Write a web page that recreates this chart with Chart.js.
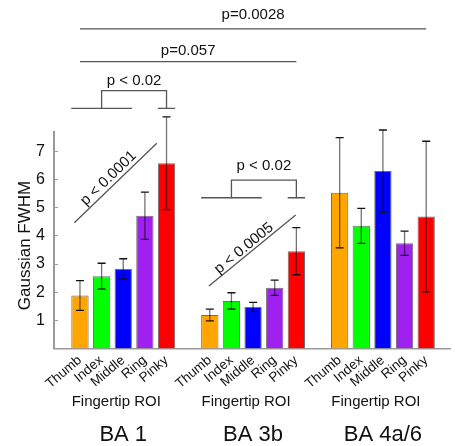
<!DOCTYPE html>
<html>
<head>
<meta charset="utf-8">
<script src="https://cdn.jsdelivr.net/npm/chart.js@4/dist/chart.umd.min.js"></script>
<style>
  html, body { margin: 0; padding: 0; background: #fff; }
  #wrap { width: 455px; height: 446px; }
</style>
</head>
<body>
<div id="wrap"><canvas id="chart" width="455" height="446"></canvas></div>
<script>
// data
const fingers = ["Thumb", "Index", "Middle", "Ring", "Pinky"];
const areas = ["BA 1", "BA 3b", "BA 4a/6"];
const fingerColors = ["#ffa500", "#00ff00", "#0000ff", "#a020f0", "#ff0000"];

const ba1Mean = [1.88, 2.57, 2.83, 4.72, 6.59];
const ba1Err = [0.53, 0.46, 0.36, 0.84, 1.65];
const ba3bMean = [1.19, 1.69, 1.48, 2.16, 3.46];
const ba3bErr = [0.21, 0.29, 0.16, 0.27, 0.84];
const ba4Mean = [5.54, 4.36, 6.31, 3.74, 4.69];
const ba4Err = [1.96, 0.62, 1.46, 0.43, 2.68];

const yTicks = [1, 2, 3, 4, 5, 6, 7];
const yTitle = "Gaussian FWHM";
const groupTitle = "Fingertip ROI";

// one empty slot between the areas
const areaStart = [0, 6, 12];
const means = [ba1Mean, ba3bMean, ba4Mean];
const errs = [ba1Err, ba3bErr, ba4Err];
const xPositions = [];
areaStart.forEach(s => fingers.forEach((f, i) => xPositions.push(s + i)));

// significance marks, in axis units
const spanLines = [
    { text: "p=0.0028", from: 0, to: 16, y: 11.37, textY: 11.86 },
    { text: "p=0.057", from: 0, to: 10, y: 10.20, textY: 10.58 }
];
const brackets = [
    { text: "p < 0.02", left: [-0.4, 2.4], right: [3.6, 4.4], arms: [1, 4], top: 9.17, bottom: 8.54, textY: 9.53 },
    { text: "p < 0.02", left: [5.6, 8.4], right: [9.6, 10.4], arms: [7, 10], top: 5.99, bottom: 5.36, textY: 6.48 }
];
const trends = [
    { text: "p < 0.0001", p1: [-0.26, 4.47], p2: [3.55, 7.30], at: [1.32, 6.05] },
    { text: "p < 0.0005", p1: [5.96, 2.22], p2: [9.97, 4.75], at: [7.58, 3.56] }
];

const FONT = "Arial, 'Liberation Sans', Helvetica, sans-serif";

const datasets = areas.map((a, g) => ({
    label: a,
    data: means[g].map((v, i) => ({ x: areaStart[g] + i, y: v, err: errs[g][i] })),
    backgroundColor: fingerColors,
    borderColor: "#6e6e6e",
    borderWidth: 1,
    grouped: false,
    barPercentage: 0.8,
    categoryPercentage: 1
}));

const extras = {
    id: "extras",
    afterDatasetsDraw(chart) {
        const ctx = chart.ctx;
        const ys = chart.scales.y;
        const py = v => ys.getPixelForValue(v);

        // error bars
        ctx.save();
        chart.data.datasets.forEach((ds, d) => {
            chart.getDatasetMeta(d).data.forEach((bar, i) => {
                const p = ds.data[i];
                const t = py(p.y + p.err), b = py(p.y - p.err);
                ctx.strokeStyle = "rgba(0,0,0,0.55)";
                ctx.lineWidth = 1.3;
                ctx.beginPath();
                ctx.moveTo(bar.x, t); ctx.lineTo(bar.x, b);
                ctx.stroke();
                ctx.strokeStyle = "#111";
                ctx.beginPath();
                ctx.moveTo(bar.x - 4, t); ctx.lineTo(bar.x + 4, t);
                ctx.moveTo(bar.x - 4, b); ctx.lineTo(bar.x + 4, b);
                ctx.stroke();
            });
        });
        ctx.restore();
    },
    afterDraw(chart) {
        const ctx = chart.ctx;
        const xs = chart.scales.x, ys = chart.scales.y;
        const px = v => xs.getPixelForValue(v);
        const py = v => ys.getPixelForValue(v);
        ctx.save();
        ctx.strokeStyle = "#555";
        ctx.lineWidth = 1.3;
        ctx.fillStyle = "#111";
        ctx.textAlign = "center";
        ctx.textBaseline = "middle";
        ctx.font = "15px " + FONT;

        spanLines.forEach(s => {
            ctx.beginPath();
            ctx.moveTo(px(s.from), py(s.y)); ctx.lineTo(px(s.to), py(s.y));
            ctx.stroke();
            ctx.fillText(s.text, px((s.from + s.to) / 2), py(s.textY));
        });

        brackets.forEach(b => {
            ctx.beginPath();
            ctx.moveTo(px(b.left[0]), py(b.bottom)); ctx.lineTo(px(b.left[1]), py(b.bottom));
            ctx.moveTo(px(b.right[0]), py(b.bottom)); ctx.lineTo(px(b.right[1]), py(b.bottom));
            ctx.moveTo(px(b.arms[0]), py(b.bottom));
            ctx.lineTo(px(b.arms[0]), py(b.top));
            ctx.lineTo(px(b.arms[1]), py(b.top));
            ctx.lineTo(px(b.arms[1]), py(b.bottom));
            ctx.stroke();
            ctx.fillText(b.text, px((b.arms[0] + b.arms[1]) / 2), py(b.textY));
        });

        trends.forEach(t => {
            const x1 = px(t.p1[0]), y1 = py(t.p1[1]);
            const x2 = px(t.p2[0]), y2 = py(t.p2[1]);
            ctx.beginPath();
            ctx.moveTo(x1, y1); ctx.lineTo(x2, y2);
            ctx.stroke();
            ctx.save();
            ctx.translate(px(t.at[0]), py(t.at[1]));
            ctx.rotate(Math.atan2(y2 - y1, x2 - x1));
            ctx.fillText(t.text, 0, 0);
            ctx.restore();
        });

        // axis title
        ctx.save();
        ctx.font = "17px " + FONT;
        ctx.translate(25, 245.5);
        ctx.rotate(-Math.PI / 2);
        ctx.fillText(yTitle, 0, 0);
        ctx.restore();

        // group labels under the axis
        areas.forEach((a, g) => {
            const cx = px(areaStart[g] + 2);
            ctx.font = "15px " + FONT;
            ctx.fillText(groupTitle, cx - 7, 402);
            ctx.font = "22px " + FONT;
            ctx.fillText(a, cx, 435);
        });
        ctx.restore();
    }
};

new Chart(document.getElementById("chart"), {
    type: "bar",
    data: { datasets },
    options: {
        responsive: false,
        animation: false,
        layout: { padding: { top: 131.7, right: 5, left: 0, bottom: 0 } },
        plugins: { legend: { display: false }, tooltip: { enabled: false } },
        scales: {
            x: {
                type: "linear",
                min: -1.2,
                max: 17.1,
                offset: false,
                grid: { display: false },
                border: { display: true, color: "#9a9a9a", width: 1.5 },
                afterBuildTicks: s => { s.ticks = xPositions.map(v => ({ value: v })); },
                afterFit: s => { s.height = 446 - 348.4; },
                ticks: {
                    autoSkip: false,
                    minRotation: 40,
                    maxRotation: 40,
                    padding: -4,
                    color: "#111",
                    font: { family: FONT, size: 13.5 },
                    callback: v => fingers[v % 6]
                }
            },
            y: {
                min: 0,
                max: 7.71,
                grid: { drawOnChartArea: false, drawTicks: true, tickLength: -4, color: "#9a9a9a" },
                border: { display: true, color: "#9a9a9a", width: 2 },
                afterBuildTicks: s => { s.ticks = yTicks.map(v => ({ value: v })); },
                afterFit: s => { s.width = 54; },
                ticks: {
                    padding: 13,
                    color: "#111",
                    font: { family: FONT, size: 16 }
                }
            }
        }
    },
    plugins: [extras]
});
</script>
</body>
</html>
